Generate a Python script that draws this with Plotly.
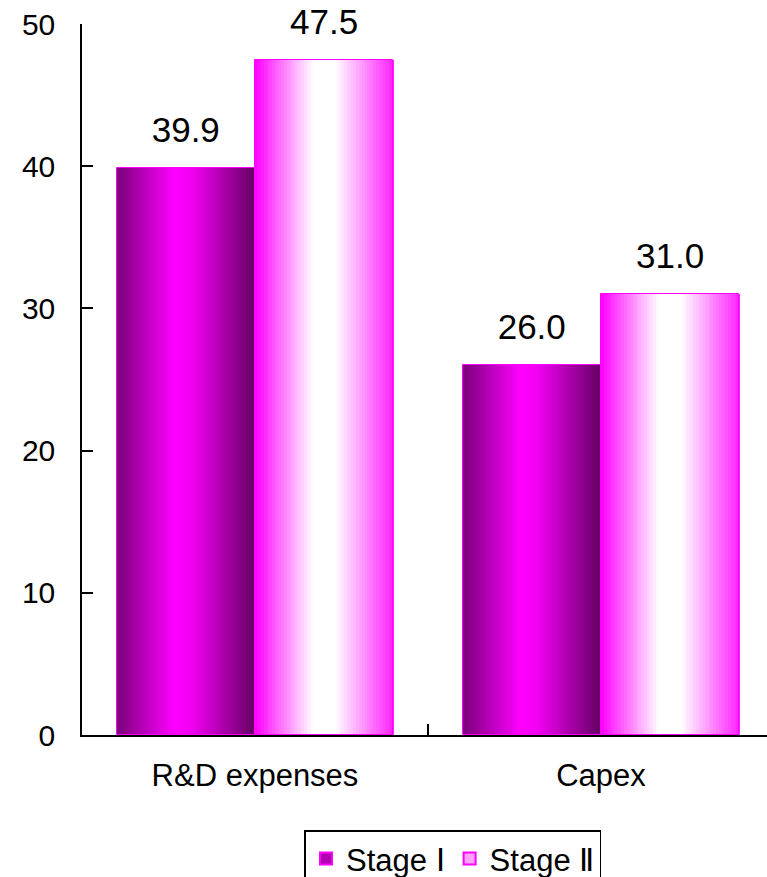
import plotly.graph_objects as go

categories = ["R&D expenses", "Capex"]
stage1 = [39.9, 26.0]
stage2 = [47.5, 31.0]
series_names = ["Stage Ⅰ", "Stage Ⅱ"]
y_ticks = [0, 10, 20, 30, 40, 50]

FONT = "Liberation Sans, Arial, sans-serif"
BAR_W = 0.40
N = 48

def hex2rgb(h):
    h = h.lstrip("#")
    return tuple(int(h[i:i + 2], 16) for i in (0, 2, 4))

def interp(stops, t):
    for (t0, c0), (t1, c1) in zip(stops[:-1], stops[1:]):
        if t0 <= t <= t1:
            a, b = hex2rgb(c0), hex2rgb(c1)
            f = 0 if t1 == t0 else (t - t0) / (t1 - t0)
            r = [round(a[k] + (b[k] - a[k]) * f) for k in range(3)]
            return "rgb(%d,%d,%d)" % tuple(r)
    return stops[-1][1]

grad1 = [(0.0, "#780078"), (0.42, "#ff00ff"), (0.55, "#f000f0"), (1.0, "#640064")]
grad2 = [(0.0, "#ff00ff"), (0.42, "#ffffff"), (0.58, "#ffffff"), (1.0, "#ff22ff")]
mid1 = "#b000b0"
mid2 = "#ffa0ff"

fig = go.Figure()

series = [(stage1, -BAR_W, grad1, mid1, series_names[0]),
          (stage2, 0.0, grad2, mid2, series_names[1])]

for vals, off, grad, mid, name in series:
    sw = BAR_W / N
    for i in range(N):
        t = (i + 0.5) / N
        fig.add_trace(go.Bar(
            x=categories, y=vals, width=sw * 1.08, offset=off + i * sw,
            marker=dict(color=interp(grad, t), line=dict(width=0)),
            showlegend=False, hoverinfo="skip"))
    # outline
    fig.add_trace(go.Bar(
        x=categories, y=vals, width=BAR_W, offset=off,
        marker=dict(color="rgba(0,0,0,0)", line=dict(color="#ff00ff", width=1)),
        showlegend=False, hoverinfo="skip"))

# legend entries
for vals, off, grad, mid, name in series:
    fig.add_trace(go.Bar(
        x=categories, y=[None] * len(categories), name=name,
        marker=dict(color=mid, line=dict(color="#ff00ff", width=2))))

# value labels on overlay numeric axis
for vals, off, grad, mid, name in series:
    fig.add_trace(go.Scatter(
        x=[i + off + BAR_W / 2 for i in range(len(categories))], y=vals,
        xaxis="x2", mode="markers+text",
        text=["%.1f" % v for v in vals], textposition="top center",
        marker=dict(size=26, color="rgba(0,0,0,0)"),
        textfont=dict(family=FONT, size=35, color="black"),
        showlegend=False, hoverinfo="skip", cliponaxis=False))

fig.update_layout(
    width=767, height=877,
    margin=dict(l=82, r=0, t=24, b=142, autoexpand=False),
    paper_bgcolor="white", plot_bgcolor="white",
    barmode="overlay", bargap=0,
    font=dict(family=FONT, size=26, color="black"),
    xaxis=dict(type="category", range=[-0.5, 1.48], showline=True,
               linecolor="black", linewidth=1.5, ticks="inside",
               tickson="boundaries", ticklen=11, tickcolor="black",
               tickwidth=1.5, showgrid=False, zeroline=False,
               tickfont=dict(size=31), ticklabelstandoff=12),
    xaxis2=dict(overlaying="x", range=[-0.5, 1.48], visible=False),
    yaxis=dict(range=[0, 50], tickvals=y_ticks, showline=True,
               linecolor="black", linewidth=1.5, ticks="inside",
               ticklen=11, tickcolor="black", tickwidth=1.5,
               showgrid=False, zeroline=False, tickfont=dict(size=30),
               ticklabelstandoff=19),
    legend=dict(orientation="h", x=0.5416, xanchor="center",
                y=-0.134, yanchor="top", bordercolor="black",
                borderwidth=1.5, font=dict(size=31), bgcolor="white",
                itemsizing="constant", traceorder="normal",
                itemwidth=30),
)

fig.write_html("out.html")
